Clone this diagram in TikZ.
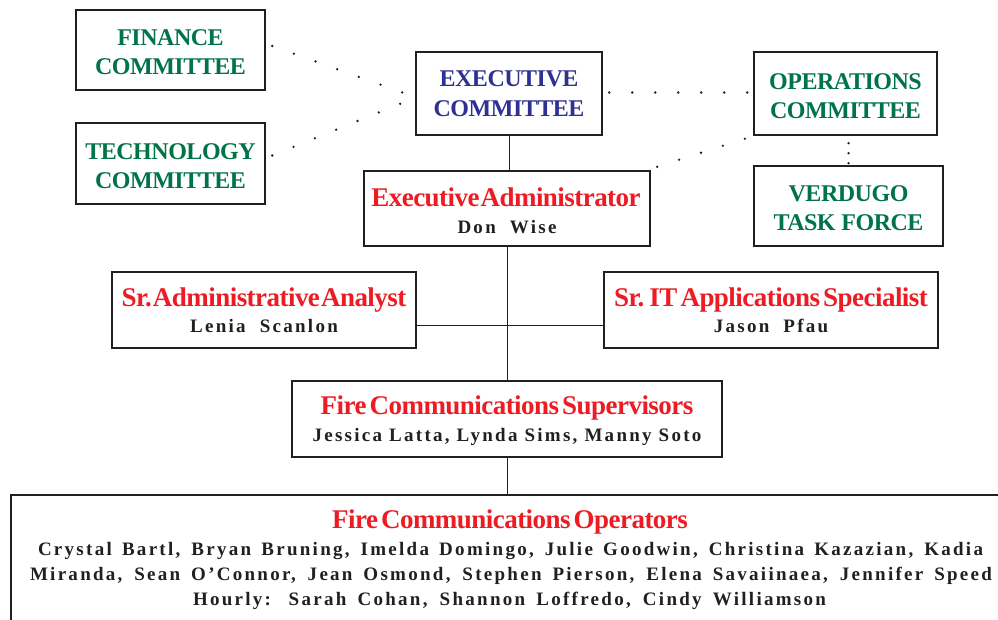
\documentclass[tikz,border=0pt]{standalone}
\usepackage{fontspec}
\setmainfont{Liberation Serif}
\newfontfamily\comf[LetterSpace=-2]{Liberation Serif}
\newfontfamily\titf[LetterSpace=-2,WordSpace=0.5]{Liberation Serif}
\newfontfamily\namf[LetterSpace=12]{Liberation Serif}
\definecolor{cgreen}{RGB}{0,116,72}
\definecolor{cblue}{RGB}{46,49,146}
\definecolor{cred}{RGB}{237,28,36}
\definecolor{cdark}{RGB}{35,31,32}
\tikzset{
  box/.style={draw=cdark, line width=2.4pt, inner sep=0pt, rectangle},
  comtext/.style={anchor=base, inner sep=0pt, text=cgreen, font=\comf\bfseries\fontsize{24}{24}\selectfont},
  tittext/.style={anchor=base, inner sep=0pt, text=cred, font=\titf\bfseries\fontsize{27}{27}\selectfont},
  namtext/.style={anchor=base, inner sep=0pt, text=cdark, font=\namf\bfseries\fontsize{19}{19}\selectfont},
  solidline/.style={draw=cdark, line width=1pt},
  dotline/.style={draw=cdark, line width=2.6pt, line cap=round, dash pattern=on 0pt off 23pt},
  shortdot/.style={draw=cdark, line width=2.6pt, line cap=round, dash pattern=on 0pt off 10pt}
}
\begin{document}
\begin{tikzpicture}[x=1pt,y=-1pt]
\useasboundingbox (0,0) rectangle (998,620);
\clip (0,0) rectangle (998,620);
\fill[white] (0,0) rectangle (998,620);
% boxes
\node[box, minimum width=189pt, minimum height=80pt] (fin) at (170.5,50) {};
\node[box, minimum width=189pt, minimum height=81pt] (tech) at (170.5,163.5) {};
\node[box, minimum width=186pt, minimum height=83pt] (exec) at (509,93.5) {};
\node[box, minimum width=183pt, minimum height=83pt] (ops) at (845.5,93.5) {};
\node[box, minimum width=189pt, minimum height=80pt] (verd) at (848.5,206) {};
\node[box, minimum width=286pt, minimum height=75pt] (ea) at (507,208.5) {};
\node[box, minimum width=304pt, minimum height=76pt] (saa) at (264,310) {};
\node[box, minimum width=334pt, minimum height=76pt] (sit) at (771,310) {};
\node[box, minimum width=430pt, minimum height=76pt] (sup) at (507,419) {};
\node[box, minimum width=1000pt, minimum height=200pt, anchor=north west] (opr) at (10,494) {};
% texts
\node[comtext] (fin1) at (170.5,46) {FINANCE};
\node[comtext] (fin2) at (170.5,75) {COMMITTEE};
\node[comtext] (tech1) at (170.5,160) {TECHNOLOGY};
\node[comtext] (tech2) at (170.5,189) {COMMITTEE};
\node[comtext, text=cblue] (exec1) at (509,87) {EXECUTIVE};
\node[comtext, text=cblue] (exec2) at (509,117) {COMMITTEE};
\node[comtext] (ops1) at (845.5,90) {OPERATIONS};
\node[comtext] (ops2) at (845.5,119) {COMMITTEE};
\node[comtext] (verd1) at (848.5,202) {VERDUGO};
\node[comtext] (verd2) at (848.5,231) {TASK\kern3pt\ FORCE};
\node[tittext] (ea1) at (506,207) {Executive\kern-2pt\ Administrator};
\node[namtext] (ea2) at (507,234) {Don\ \ Wise};
\node[tittext] (saa1) at (264,306) {Sr.\kern-2pt\ Administrative\kern-2pt\ Analyst};
\node[namtext] (saa2) at (264,332) {Lenia\ \ Scanlon};
\node[tittext] (sit1) at (771,306) {Sr. IT Applications Specialist};
\node[namtext] (sit2) at (771,332) {Jason\ \ Pfau};
\node[tittext] (sup1) at (507,414) {Fire Communications Supervisors};
\node[namtext] (sup2) at (507,441) {Jessica Latta, Lynda Sims, Manny Soto};
\node[tittext] (opr1) at (510,528) {Fire Communications Operators};
\node[namtext] (opr2) at (510.5,555) {\makebox[945pt][s]{Crystal Bartl, Bryan Bruning, Imelda Domingo, Julie Goodwin, Christina Kazazian, Kadia}};
\node[namtext] (opr3) at (511,580) {\makebox[962pt][s]{Miranda, Sean O’Connor, Jean Osmond, Stephen Pierson, Elena Savaiinaea, Jennifer Speed}};
\node[namtext] (opr4) at (509.5,605) {\makebox[633pt][s]{Hourly: Sarah Cohan, Shannon Loffredo, Cindy Williamson}};
% solid connectors
\draw[solidline] (exec.south) -- (exec.south |- ea.north);
\draw[solidline] (ea.south) -- (sup.north);
\draw[solidline] ([yshift=-15pt]saa.east) -- ([yshift=-15pt]sit.west);
\draw[solidline] (sup.south) -- (sup.south |- opr.north);
% dotted connectors
\draw[dotline] ([xshift=6pt,yshift=4pt]fin.east) -- ([xshift=-4pt,yshift=-2pt]exec.west);
\draw[dotline] ([xshift=6pt,yshift=8pt]tech.east) -- ([xshift=-4pt,yshift=-6pt]exec.west);
\draw[dotline] ([xshift=6pt,yshift=1pt]exec.east) -- ([yshift=1pt]ops.west);
\draw[dotline] ([xshift=6pt,yshift=3pt]ea.north east) -- (ops.south west);
\draw[shortdot] ([yshift=-7pt]verd.north |- ops.south) -- (verd.north);
\end{tikzpicture}
\end{document}
